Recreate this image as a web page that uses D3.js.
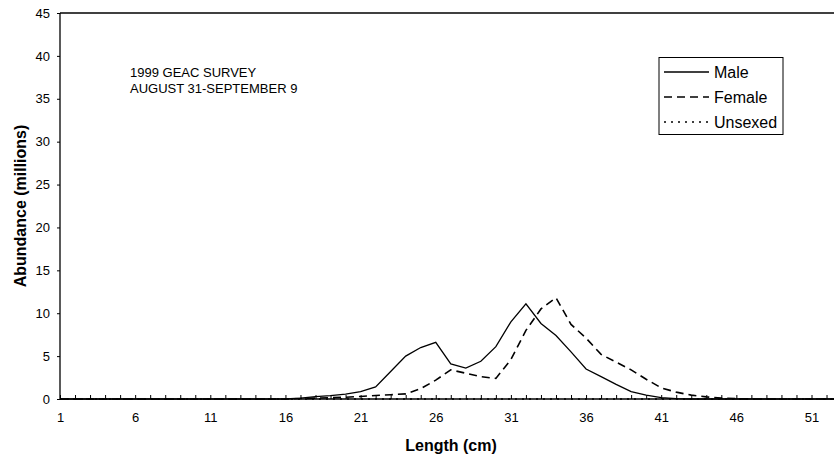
<!DOCTYPE html>
<html>
<head>
<meta charset="utf-8">
<script src="https://cdn.jsdelivr.net/npm/d3@7"></script>
<style>
  body { margin: 0; background: #fff; }
  text { font-family: "Liberation Sans", Arial, sans-serif; }
</style>
</head>
<body>
<script>
var width = 834,
    height = 461;

// length classes (cm)
var lengths = [1,2,3,4,5,6,7,8,9,10,11,12,13,14,15,16,17,18,19,20,21,22,23,24,25,26,27,
               28,29,30,31,32,33,34,35,36,37,38,39,40,41,42,43,44,45,46,47,48,49,50,51,52,53]
// abundance in millions
var male = [0,0,0,0,0,0,0,0,0,0,0,0,0,0,0,0,0.1,0.27,0.39,0.58,0.85,1.4,3.2,5.0,6.0,6.6,4.1,
            3.6,4.4,6.1,9.0,11.1,8.8,7.4,5.5,3.5,2.6,1.7,0.85,0.45,0.15,0.05,0,0,0,0,0,0,0,0,0,0,0]
var female = [0,0,0,0,0,0,0,0,0,0,0,0,0,0,0,0,0.05,0.1,0.15,0.2,0.3,0.4,0.5,0.6,1.2,2.2,3.4,
              3.0,2.6,2.4,4.6,8.0,10.5,11.8,8.7,7.1,5.2,4.3,3.4,2.3,1.3,0.8,0.45,0.25,0.1,0.05,0,0,0,0,0,0,0]
var unsexed = [0,0,0,0,0,0,0,0,0,0,0,0,0,0,0,0,0,0,0,0,0,0,0,0,0,0,0,
               0,0,0,0,0,0,0,0,0,0,0,0,0,0,0,0,0,0,0,0,0,0,0,0,0,0]
var xLabels = [1,6,11,16,21,26,31,36,41,46,51]
var yTicks = [0,5,10,15,20,25,30,35,40,45]
var seriesNames = ['Male','Female','Unsexed']
var dashes = [null,'8,5','2,5']

var plotLeft = 60, plotTop = 13, plotBottom = 399

var svg = d3.select('body')
            .append('svg')
            .attr('width',width)
            .attr('height',height)

var x = d3.scaleLinear().domain([1,51]).range([plotLeft,811.5])
var y = d3.scaleLinear().domain([0,45]).range([plotBottom,plotTop])

svg.append('clipPath').attr('id','plot')
    .append('rect')
    .attr('x',plotLeft).attr('y',plotTop - 2)
    .attr('width',width - plotLeft).attr('height',plotBottom - plotTop + 4)

// y axis
var yAxis = svg.append('g')
    .attr('transform','translate(' + plotLeft + ',0)')
    .call(d3.axisLeft(y).tickValues(yTicks).tickSize(3).tickPadding(7))
yAxis.select('.domain').remove()
yAxis.selectAll('text').style('font-size','13px').attr('fill','#000')

// x axis: ticks on every class, labels every 5
var xAxis = svg.append('g')
    .attr('transform','translate(0,' + plotBottom + ')')
    .call(d3.axisBottom(x)
        .tickValues(lengths.filter(d => x(d) < width))
        .tickSizeInner(-4).tickSizeOuter(0).tickPadding(14)
        .tickFormat(d => xLabels.indexOf(d) >= 0 ? d : ''))
xAxis.select('.domain').remove()
xAxis.selectAll('text').style('font-size','13px').attr('fill','#000')

// frame lines
svg.append('line').attr('x1',plotLeft).attr('x2',width).attr('y1',plotTop).attr('y2',plotTop)
    .attr('stroke','#000').attr('stroke-width',1.3)
svg.append('line').attr('x1',plotLeft).attr('x2',plotLeft).attr('y1',plotTop).attr('y2',plotBottom)
    .attr('stroke','#000').attr('stroke-width',1.3)
svg.append('line').attr('x1',plotLeft).attr('x2',width).attr('y1',plotBottom).attr('y2',plotBottom)
    .attr('stroke','#000').attr('stroke-width',1.5)

var line = d3.line()
    .x((d,i) => x(lengths[i]))
    .y(d => y(d))

var g = svg.append('g').attr('clip-path','url(#plot)')
;[male,female,unsexed].forEach(function(s,i){
    g.append('path')
        .datum(s)
        .attr('d',line)
        .attr('fill','none')
        .attr('stroke','#000')
        .attr('stroke-width',i == 1 ? 1.6 : 1.3)
        .attr('stroke-dasharray',dashes[i])
})

// axis titles
svg.append('text')
    .attr('x',451).attr('y',451)
    .attr('text-anchor','middle')
    .style('font-size','16px').style('font-weight','bold')
    .text('Length (cm)')
svg.append('text')
    .attr('transform','translate(26,206) rotate(-90)')
    .attr('text-anchor','middle')
    .style('font-size','16px').style('font-weight','bold')
    .text('Abundance (millions)')

// annotation
svg.append('text').attr('x',130).attr('y',76.5).style('font-size','13px').text('1999 GEAC SURVEY')
svg.append('text').attr('x',130).attr('y',93).style('font-size','13px').text('AUGUST 31-SEPTEMBER 9')

// legend
var lg = svg.append('g')
lg.append('rect')
    .attr('x',659).attr('y',57.5).attr('width',124).attr('height',77)
    .attr('fill','#fff').attr('stroke','#000').attr('stroke-width',1)
seriesNames.forEach(function(n,i){
    var ly = 72 + i * 25
    lg.append('line')
        .attr('x1',664).attr('x2',709).attr('y1',ly).attr('y2',ly)
        .attr('stroke','#000').attr('stroke-width',1.3)
        .attr('stroke-dasharray',dashes[i])
    lg.append('text')
        .attr('x',714).attr('y',ly + 5.5)
        .style('font-size','16px')
        .text(n)
})
</script>
</body>
</html>
